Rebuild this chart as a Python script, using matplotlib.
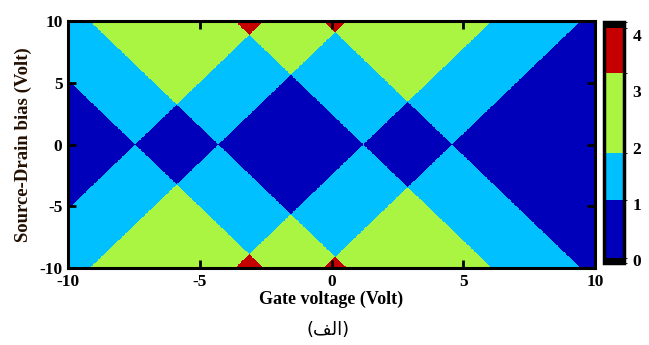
import matplotlib
matplotlib.use("Agg")
import matplotlib.pyplot as plt
from matplotlib.colors import ListedColormap, BoundaryNorm
import numpy as np

# gate voltages where the diamonds touch at zero bias
crossing_points = [-7.46, -4.30, 1.21, 4.58]
line_slope = 2.05  # |d Vsd / d Vg| of the diamond edges

# colours of 0, 1, 2, 3 channels in the bias window
band_colors = ["#0000bb", "#00c0ff", "#aaf542", "#c40000"]
# band edges on the colorbar scale (they do not sit on the ticks)
band_edges = [0.04, 1.07, 1.90, 3.32, 4.12]
cbar_range = [-0.05, 4.23]
cbar_ticks = [0, 1, 2, 3, 4]
x_ticks = [-10, -5, 0, 5, 10]
y_ticks = [-10, -5, 0, 5, 10]

plt.rcParams["font.family"] = ["Liberation Serif", "DejaVu Serif"]
plt.rcParams["font.weight"] = "bold"
plt.rcParams["axes.unicode_minus"] = False

# number of levels inside the bias window
vg = np.linspace(-10, 10, 900)
vsd = np.linspace(-10, 10, 900)
G, V = np.meshgrid(vg, vsd)
count = np.zeros_like(G, dtype=int)
for p in crossing_points:
    count += (np.abs(G - p) * line_slope < np.abs(V)).astype(int)

edges = [cbar_range[0]] + band_edges + [cbar_range[1]]
centers = np.array([(band_edges[i] + band_edges[i + 1]) / 2 for i in range(4)])
cmap = ListedColormap(["black"] + band_colors + ["black"])
norm = BoundaryNorm(edges, cmap.N)

fig = plt.figure(figsize=(6.49, 3.45), dpi=100)
ax = fig.add_axes([0.1048, 0.2232, 0.812, 0.7158])
im = ax.imshow(centers[count], origin="lower", extent=[-10, 10, -10, 10],
               aspect="auto", cmap=cmap, norm=norm, interpolation="nearest")

ax.set_xlim(-10, 10)
ax.set_ylim(-10, 10)
ax.set_xticks(x_ticks)
ax.set_yticks(y_ticks)
ax.tick_params(direction="in", length=6, width=2, top=True, right=True,
               labelsize=12.5, pad=4)
for s in ax.spines.values():
    s.set_linewidth(2.2)

ax.set_xlabel("Gate voltage (Volt)", fontsize=13, fontweight="bold", labelpad=1)
ax.set_ylabel("Source-Drain bias (Volt)", fontsize=13.5, fontweight="bold",
              color="#241000", labelpad=5)

cax = fig.add_axes([0.9307, 0.2377, 0.0308, 0.6986])
cb = fig.colorbar(im, cax=cax, ticks=cbar_ticks, spacing="proportional")
cb.outline.set_linewidth(2.5)
cax.tick_params(length=0, labelsize=12.5, pad=6)

fig.text(0.506, 0.043, "(\ufed2\ufedf\ufe8d)", ha="center", va="center",
         fontsize=13, family=["DejaVu Sans"], fontweight="normal")

fig.savefig("out.png", dpi=100)
